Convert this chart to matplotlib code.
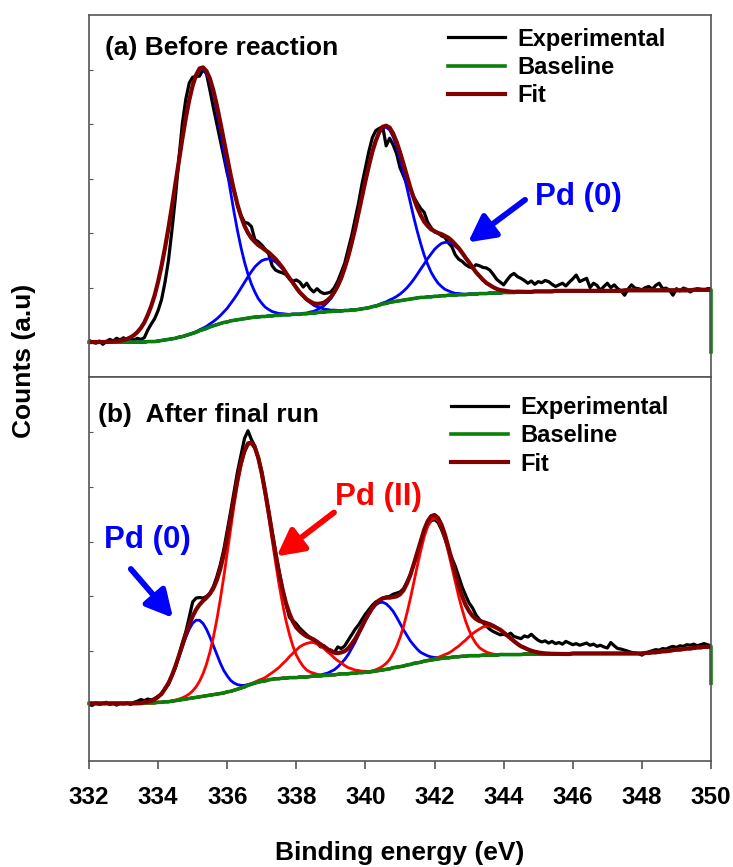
import numpy as np
import matplotlib.pyplot as plt

plt.rcParams['font.family'] = ['Liberation Sans', 'DejaVu Sans']
plt.rcParams['font.weight'] = 'bold'

# Pd 3d region, 0.1 eV channels
energy = np.linspace(332, 350, 181)

# (a) before reaction: measured counts
exp_a = [
    0.03, 0.00, -0.02, 0.02, -0.04, 0.01, 0.05, 0.02, 0.07, 0.04,
    0.08, 0.03, 0.06, 0.04, 0.07, 0.05, 0.08, 0.22, 0.33, 0.43,
    0.58, 0.78, 1.10, 1.50, 2.05, 2.65, 3.35, 4.00, 4.45, 4.75,
    4.86, 4.87, 4.88, 5.00, 4.92, 4.62, 4.30, 4.00, 3.70, 3.40,
    3.10, 2.88, 2.78, 2.50, 2.32, 2.20, 2.18, 2.12, 1.88, 1.84,
    1.78, 1.70, 1.62, 1.40, 1.32, 1.29, 1.27, 1.24, 1.16, 1.12,
    1.14, 1.10, 1.01, 1.08, 0.98, 0.92, 0.98, 0.92, 0.89, 0.90,
    0.92, 1.00, 1.12, 1.28, 1.45, 1.70, 1.95, 2.25, 2.55, 2.90,
    3.20, 3.50, 3.75, 3.88, 3.92, 3.95, 3.60, 3.74, 3.62, 3.46,
    3.20, 3.05, 2.90, 2.80, 2.66, 2.55, 2.45, 2.38, 2.20, 2.10,
    2.02, 2.00, 1.95, 1.92, 1.82, 1.75, 1.60, 1.52, 1.48, 1.42,
    1.38, 1.36, 1.42, 1.40, 1.37, 1.36, 1.32, 1.24, 1.15, 1.10,
    1.05, 1.14, 1.22, 1.26, 1.20, 1.17, 1.13, 1.08, 1.12, 1.06,
    1.11, 1.09, 1.13, 1.11, 1.06, 1.02, 1.05, 1.08, 1.03, 1.10,
    1.16, 1.23, 1.11, 1.14, 1.17, 1.00, 1.08, 1.04, 0.95, 1.02,
    1.08, 1.00, 1.05, 0.98, 0.94, 0.86, 0.97, 1.05, 0.99, 0.98,
    0.96, 1.00, 1.02, 0.97, 1.04, 1.08, 0.98, 0.99, 0.95, 0.86,
    0.98, 0.94, 0.99, 0.97, 0.92, 0.96, 0.98, 0.97, 0.95, 0.98,
    0.98,
]
# Shirley background
base_a = [
    0.00, 0.00, 0.00, 0.00, 0.00, 0.00, 0.00, 0.00, 0.00, 0.00,
    0.00, 0.00, 0.00, 0.00, 0.00, 0.00, 0.00, 0.01, 0.01, 0.01,
    0.02, 0.03, 0.04, 0.05, 0.06, 0.07, 0.09, 0.10, 0.12, 0.14,
    0.16, 0.18, 0.21, 0.23, 0.25, 0.28, 0.30, 0.32, 0.34, 0.36,
    0.37, 0.39, 0.40, 0.41, 0.42, 0.43, 0.44, 0.45, 0.46, 0.46,
    0.47, 0.47, 0.48, 0.48, 0.49, 0.49, 0.50, 0.50, 0.50, 0.51,
    0.51, 0.51, 0.52, 0.52, 0.53, 0.53, 0.54, 0.55, 0.55, 0.56,
    0.56, 0.57, 0.57, 0.57, 0.58, 0.58, 0.59, 0.59, 0.60, 0.61,
    0.62, 0.63, 0.65, 0.66, 0.68, 0.70, 0.71, 0.73, 0.74, 0.75,
    0.76, 0.77, 0.78, 0.79, 0.80, 0.81, 0.82, 0.82, 0.83, 0.83,
    0.84, 0.84, 0.85, 0.85, 0.86, 0.86, 0.86, 0.87, 0.87, 0.87,
    0.88, 0.88, 0.88, 0.89, 0.89, 0.89, 0.90, 0.90, 0.90, 0.90,
    0.91, 0.91, 0.91, 0.91, 0.92, 0.92, 0.92, 0.92, 0.92, 0.93,
    0.93, 0.93, 0.93, 0.93, 0.93, 0.94, 0.94, 0.94, 0.94, 0.94,
    0.94, 0.94, 0.94, 0.94, 0.94, 0.94, 0.94, 0.94, 0.94, 0.94,
    0.94, 0.94, 0.94, 0.94, 0.94, 0.95, 0.95, 0.95, 0.95, 0.95,
    0.95, 0.95, 0.95, 0.95, 0.95, 0.95, 0.95, 0.95, 0.95, 0.95,
    0.95, 0.95, 0.95, 0.95, 0.95, 0.96, 0.96, 0.96, 0.96, 0.96,
    0.96,
]
base_end_a = -0.18

# (b) after final run
exp_b = [
    0.04, 0.02, 0.06, 0.03, 0.05, 0.07, 0.03, 0.05, 0.02, 0.05,
    0.04, 0.06, 0.03, 0.07, 0.09, 0.12, 0.10, 0.13, 0.11, 0.14,
    0.18, 0.22, 0.33, 0.40, 0.55, 0.70, 0.92, 1.15, 1.35, 1.62,
    1.90, 1.97, 1.98, 1.97, 2.00, 2.06, 2.18, 2.36, 2.58, 2.85,
    3.20, 3.55, 3.92, 4.28, 4.58, 4.88, 5.02, 4.86, 4.74, 4.52,
    4.28, 3.92, 3.55, 3.18, 2.80, 2.46, 2.14, 1.86, 1.62, 1.56,
    1.50, 1.42, 1.36, 1.30, 1.25, 1.20, 1.15, 1.08, 1.10, 1.04,
    1.02, 0.98, 1.08, 1.05, 1.10, 1.20, 1.30, 1.40, 1.48, 1.58,
    1.68, 1.76, 1.84, 1.90, 1.93, 1.97, 1.99, 2.00, 2.04, 2.06,
    2.08, 2.14, 2.26, 2.40, 2.58, 2.76, 2.98, 3.16, 3.30, 3.38,
    3.40, 3.35, 3.22, 3.05, 2.86, 2.70, 2.55, 2.36, 2.17, 2.02,
    1.88, 1.79, 1.66, 1.58, 1.52, 1.46, 1.40, 1.36, 1.33, 1.30,
    1.31, 1.29, 1.33, 1.27, 1.25, 1.23, 1.28, 1.26, 1.31, 1.25,
    1.20, 1.17, 1.19, 1.15, 1.18, 1.14, 1.16, 1.13, 1.18, 1.15,
    1.12, 1.14, 1.11, 1.13, 1.15, 1.11, 1.13, 1.09, 1.11, 1.08,
    1.06, 1.16, 1.10, 1.05, 1.04, 1.02, 1.00, 0.98, 0.97, 0.96,
    0.93, 0.97, 0.99, 1.01, 1.03, 1.02, 1.05, 1.04, 1.07, 1.09,
    1.07, 1.10, 1.09, 1.12, 1.11, 1.13, 1.10, 1.12, 1.14, 1.12,
    1.10,
]
base_b = [
    0.05, 0.05, 0.05, 0.05, 0.05, 0.05, 0.05, 0.05, 0.05, 0.05,
    0.05, 0.05, 0.05, 0.05, 0.05, 0.05, 0.06, 0.06, 0.06, 0.06,
    0.07, 0.07, 0.08, 0.08, 0.09, 0.10, 0.11, 0.12, 0.13, 0.14,
    0.15, 0.16, 0.17, 0.18, 0.19, 0.20, 0.21, 0.22, 0.23, 0.24,
    0.26, 0.27, 0.29, 0.31, 0.33, 0.35, 0.38, 0.40, 0.42, 0.44,
    0.45, 0.46, 0.48, 0.49, 0.50, 0.50, 0.51, 0.51, 0.52, 0.52,
    0.52, 0.53, 0.53, 0.53, 0.54, 0.55, 0.55, 0.55, 0.56, 0.56,
    0.57, 0.57, 0.58, 0.59, 0.59, 0.59, 0.60, 0.60, 0.61, 0.61,
    0.62, 0.62, 0.63, 0.64, 0.65, 0.66, 0.67, 0.68, 0.70, 0.71,
    0.72, 0.73, 0.75, 0.76, 0.78, 0.79, 0.80, 0.82, 0.83, 0.84,
    0.85, 0.86, 0.87, 0.88, 0.88, 0.89, 0.90, 0.90, 0.91, 0.91,
    0.92, 0.92, 0.92, 0.92, 0.93, 0.93, 0.93, 0.93, 0.93, 0.94,
    0.94, 0.94, 0.94, 0.94, 0.94, 0.94, 0.95, 0.95, 0.95, 0.95,
    0.95, 0.95, 0.95, 0.95, 0.95, 0.95, 0.95, 0.95, 0.95, 0.95,
    0.96, 0.96, 0.96, 0.96, 0.96, 0.96, 0.96, 0.96, 0.96, 0.96,
    0.96, 0.96, 0.96, 0.96, 0.96, 0.96, 0.96, 0.96, 0.96, 0.96,
    0.96, 0.97, 0.97, 0.98, 0.98, 0.99, 1.00, 1.00, 1.01, 1.02,
    1.03, 1.03, 1.04, 1.05, 1.05, 1.06, 1.07, 1.07, 1.08, 1.08,
    1.09,
]
base_end_b = 0.42

# fitted components: centre (eV), height above background, gaussian sigma (eV)
pd0_a_centre = [335.24, 337.15, 340.55, 342.33]
pd0_a_height = [4.80, 1.05, 3.24, 0.98]
pd0_a_sigma = [0.72, 0.68, 0.68, 0.65]

pd0_b_centre = [335.13, 340.44]
pd0_b_height = [1.41, 1.24]
pd0_b_sigma = [0.49, 0.59]

pd2_b_centre = [336.65, 338.39, 341.98, 343.55]
pd2_b_height = [4.40, 0.62, 2.58, 0.53]
pd2_b_sigma = [0.62, 0.60, 0.55, 0.60]


def peak(c, h, s):
    return h * np.exp(-0.5 * ((energy - c) / s) ** 2)


fig = plt.figure(figsize=(7.33, 8.67), dpi=100)
ax1 = fig.add_axes([89 / 733, 1 - 377 / 867, 622 / 733, 362 / 867])
ax2 = fig.add_axes([89 / 733, 1 - 761 / 867, 622 / 733, 384 / 867])

panels = [
    (ax1, exp_a, base_a, base_end_a,
     [(pd0_a_centre, pd0_a_height, pd0_a_sigma, 'blue')]),
    (ax2, exp_b, base_b, base_end_b,
     [(pd0_b_centre, pd0_b_height, pd0_b_sigma, 'blue'),
      (pd2_b_centre, pd2_b_height, pd2_b_sigma, 'red')]),
]
for ax, exp, base, end, groups in panels:
    base = np.array(base)
    fit = base.copy()
    ax.plot(energy, exp, color='black', lw=2.3, label='Experimental')
    for cs, hs, ss, col in groups:
        for c, h, s in zip(cs, hs, ss):
            comp = peak(c, h, s)
            fit += comp
            ax.plot(energy, base + comp, color=col, lw=2)
    # last channel of the background drops off at 350 eV
    ax.plot(np.append(energy, 350), np.append(base, end), color='#0a800a', lw=2.6,
            label='Baseline', clip_on=False)
    ax.plot(energy, fit, color='#800000', lw=3, label='Fit')

    ax.set_xlim(332, 350)
    ax.set_yticks(range(6))
    ax.tick_params(axis='y', direction='in', length=3, labelleft=False, color='#555555')
    for sp in ax.spines.values():
        sp.set_color('#555555')
        sp.set_linewidth(1.2)

ax1.set_ylim(-0.64, 6)
ax2.set_ylim(-1, 6)
ax1.tick_params(axis='x', bottom=False, labelbottom=False)
ax2.set_xticks(range(332, 351, 2))
ax2.tick_params(axis='x', direction='out', length=6, width=1.2, color='#555555',
                labelsize=17.5, pad=12)

leg_kw = dict(frameon=False, handlelength=2.4, handletextpad=0.55, labelspacing=0.22,
              borderpad=0, borderaxespad=0, prop={'weight': 'bold', 'size': 17},
              loc='upper left')
ax1.legend(bbox_to_anchor=(0.577, 0.965), **leg_kw)
ax2.legend(bbox_to_anchor=(0.582, 0.950), **leg_kw)

ax1.text(0.026, 0.889, '(a) Before reaction', transform=ax1.transAxes, fontsize=19)
ax2.text(0.015, 0.882, '(b)  After final run', transform=ax2.transAxes, fontsize=19)

arrow = dict(arrowstyle='-|>,head_length=0.8,head_width=0.42', lw=4.2, mutation_scale=20,
             shrinkA=0, shrinkB=0)
ax1.text(346.16, 2.51, 'Pd (0)', color='blue', fontsize=22.5, ha='center')
ax1.annotate('', xy=(342.97, 1.83), xytext=(344.62, 2.61),
             arrowprops=dict(color='blue', **arrow))
ax2.text(333.69, 2.88, 'Pd (0)', color='blue', fontsize=22.5, ha='center')
ax2.annotate('', xy=(334.43, 1.61), xytext=(333.21, 2.50),
             arrowprops=dict(color='blue', **arrow))
ax2.text(340.38, 3.66, 'Pd (II)', color='red', fontsize=22.5, ha='center')
ax2.annotate('', xy=(337.43, 2.73), xytext=(339.09, 3.53),
             arrowprops=dict(color='red', **arrow))

fig.text(400 / 733, 1 - 853 / 867, 'Binding energy (eV)', fontsize=19,
         ha='center', va='center')
fig.text(24 / 733, 1 - 361 / 867, 'Counts (a.u)', fontsize=19,
         ha='center', va='center', rotation=90)

fig.savefig('out.png')
